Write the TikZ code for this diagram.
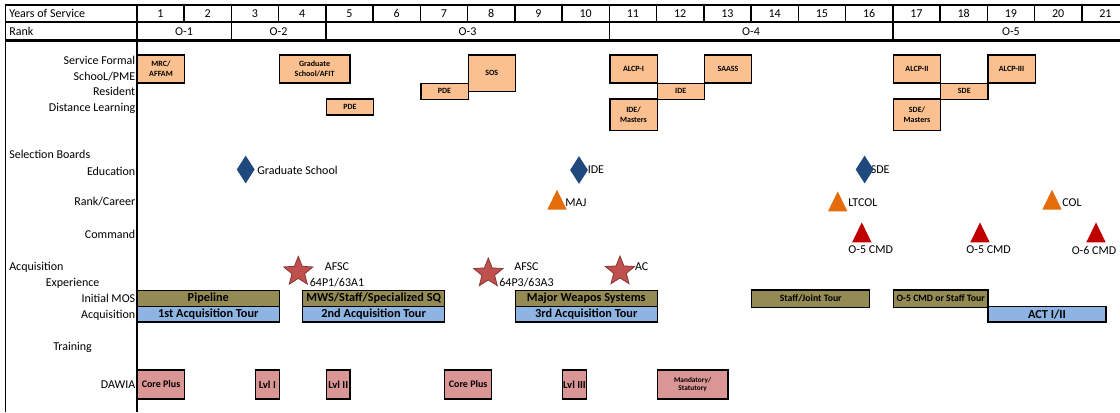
\documentclass[tikz,border=0pt]{standalone}
\usepackage{fontspec}
\setmainfont{Carlito}
\usetikzlibrary{shapes.geometric, positioning}

\definecolor{peach}{HTML}{FAC090}
\definecolor{tourolive}{HTML}{948A54}
\definecolor{tourblue}{HTML}{8DB4E2}
\definecolor{dawiapink}{HTML}{DA9694}
\definecolor{boardnavy}{HTML}{1F497D}
\definecolor{promoorange}{HTML}{E46C0A}
\definecolor{cmdred}{HTML}{C00000}
\definecolor{starred}{HTML}{C0504D}

% left edge of a year column, and one year wide
\newcommand{\yrx}[1]{136.8+(#1-1)*47.25}
\newcommand{\yrw}{35.4375pt}

\begin{document}
\begin{tikzpicture}[
    x=0.75pt, y=-0.75pt,
    gridline/.style={line width=1.1pt},
    headtext/.style={inner sep=0pt, text height=1.5ex, text depth=.25ex, font=\fontsize{9}{10}\selectfont},
    rowlabel/.style={anchor=east, inner sep=0pt, text height=1.5ex, text depth=.25ex, font=\fontsize{9}{10}\selectfont},
    sidelabel/.style={anchor=west, inner sep=0pt, text height=1.5ex, text depth=.25ex, font=\fontsize{9}{10}\selectfont},
    marktext/.style={inner sep=0pt, align=center, font=\fontsize{9}{12.5}\selectfont},
    pme/.style={
        rectangle,
        draw=black,
        line width=0.9pt,
        fill=peach,
        anchor=north west,
        inner sep=0pt,
        minimum width=\yrw,
        align=center,
        font=\fontsize{6}{7.5}\selectfont\bfseries
    },
    tour/.style={
        rectangle,
        draw=black,
        line width=0.9pt,
        anchor=north west,
        inner sep=0pt,
        minimum height=11.7pt,
        font=\fontsize{9.2}{10}\selectfont\bfseries
    },
    mos/.style={tour, fill=tourolive},
    acq/.style={tour, fill=tourblue},
    dawia/.style={
        rectangle,
        draw=black,
        line width=0.9pt,
        fill=dawiapink,
        anchor=north west,
        inner sep=0pt,
        minimum height=21.75pt,
        align=center,
        font=\fontsize{7.5}{8}\selectfont\bfseries
    },
    lvlbox/.style={dawia, minimum width=0.5*\yrw, font=\fontsize{8}{9}\selectfont\bfseries},
    board/.style={diamond, fill=boardnavy, minimum width=13.5pt, minimum height=21pt, inner sep=0pt},
    promo/.style={isosceles triangle, isosceles triangle stretches, shape border rotate=90,
        anchor=lower side, fill=promoorange, minimum width=14.6pt, minimum height=15pt, inner sep=0pt},
    cmd/.style={promo, fill=cmdred},
    afsc/.style={star, star points=5, star point ratio=2.3, fill=starred, draw=starred!70!black,
        line width=0.6pt, minimum size=23pt, inner sep=0pt}
]
    \useasboundingbox (0,0) rectangle (1120,412);

    % HEADER Years of Service / Rank
    \draw[gridline] (5,5) -- (1120,5);
    \draw[gridline] (5,22) -- (1120,22);
    \draw[line width=1.7pt] (5,40.5) -- (1120,40.5);
    \draw[gridline] (5.5,5) -- (5.5,412);
    \draw[line width=1.6pt] (136.8,5) -- (136.8,412);
    \foreach \n in {2,...,21}
        \draw[gridline] ({\yrx{\n}},5) -- ({\yrx{\n}},22);
    \foreach \n in {3,5,11,17}
        \draw[gridline] ({\yrx{\n}},22) -- ({\yrx{\n}},40.5);

    \node[sidelabel] (yos) at (9,13.5) {Years of Service};
    \node[sidelabel] (rank) at (9,31.5) {Rank};
    \foreach \n in {1,...,21}
        \node[headtext] (yr\n) at ({\yrx{\n}+23.6},13.5) {\n};
    \node[headtext] (o1) at ({\yrx{2}},31.5) {O-1};
    \node[headtext] (o2) at ({\yrx{4}},31.5) {O-2};
    \node[headtext] (o3) at ({\yrx{8}},31.5) {O-3};
    \node[headtext] (o4) at ({\yrx{14}},31.5) {O-4};
    \node[headtext] (o5) at ({\yrx{19.5}},31.5) {O-5};

    % LEFT row labels
    \node[rowlabel] (lsf) at (135.5,61) {Service Formal};
    \node[rowlabel] (lpme) at (135.5,77) {SchooL/PME};
    \node[rowlabel] (lres) at (135.5,91.5) {Resident};
    \node[rowlabel] (ldl) at (135.5,108) {Distance Learning};
    \node[sidelabel] (lsel) at (9,154.5) {Selection Boards};
    \node[rowlabel] (ledu) at (135.5,171.5) {Education};
    \node[rowlabel] (lrank) at (135.5,202) {Rank/Career};
    \node[rowlabel] (lcmd) at (135.5,235) {Command};
    \node[sidelabel] (lacq) at (9,267) {Acquisition};
    \node[sidelabel] (lexp) at (45.5,283) {Experience};
    \node[rowlabel] (lmos) at (135.5,299) {Initial MOS};
    \node[rowlabel] (lacqt) at (135.5,315) {Acquisition};
    \node[sidelabel] (ltrn) at (53,347) {Training};
    \node[rowlabel] (ldaw) at (135.5,385) {DAWIA};

    % PME boxes
    \node[pme, minimum height=21pt] (mrc) at ({\yrx{1}},54.3) {MRC/\\AFFAM};
    \node[pme, minimum width=1.5*\yrw, minimum height=21pt] (afit) at ({\yrx{4}},54.3) {Graduate\\School/AFIT};
    \node[pme, minimum height=12pt] (pdedl) at ({\yrx{5}},98.3) {PDE};
    \node[pme, minimum height=12pt] (pderes) at ({\yrx{7}},82.5) {PDE};
    \node[pme, minimum height=27.5pt] (sos) at ({\yrx{8}},54.3) {SOS};
    \node[pme, minimum height=21pt] (alcpa) at ({\yrx{11}},54.3) {ALCP-I};
    \node[pme, minimum height=12pt] (ide) at ({\yrx{12}},82.5) {IDE};
    \node[pme, minimum height=21pt] (saass) at ({\yrx{13}},54.3) {SAASS};
    \node[pme, minimum height=23.8pt] (idem) at ({\yrx{11}},98.3) {IDE/\\Masters};
    \node[pme, minimum height=21pt] (alcpb) at ({\yrx{17}},54.3) {ALCP-II};
    \node[pme, minimum height=12pt] (sde) at ({\yrx{18}},82.5) {SDE};
    \node[pme, minimum height=21pt] (alcpc) at ({\yrx{19}},54.3) {ALCP-III};
    \node[pme, minimum height=23.8pt] (sdem) at ({\yrx{17}},98.3) {SDE/\\Masters};

    % SELECTION boards
    \node[sidelabel] (gstext) at (257,171) {Graduate School};
    \node[board] (gsboard) at (245.7,169.5) {};
    \node[sidelabel] (idetext) at (587.5,170) {IDE};
    \node[board] (ideboard) at (579,170) {};
    \node[sidelabel] (sdetext) at (870.5,170) {SDE};
    \node[board] (sdeboard) at (864.6,169.5) {};
    \node[sidelabel] (majtext) at (565,202.5) {MAJ};
    \node[promo] (maj) at (557,210) {};
    \node[sidelabel] (ltcoltext) at (848,202.5) {LTCOL};
    \node[promo] (ltcol) at (837.7,211.7) {};
    \node[sidelabel] (coltext) at (1062,202.5) {COL};
    \node[promo] (col) at (1052,210) {};
    \node[cmd] (cmda) at (861.8,242.7) {};
    \node[marktext] (cmdatext) at (870.7,250) {O-5 CMD};
    \node[cmd] (cmdb) at (980,242.7) {};
    \node[marktext] (cmdbtext) at (988.6,250) {O-5 CMD};
    \node[cmd] (cmdc) at (1096,242.7) {};
    \node[marktext] (cmdctext) at (1094,250) {O-6 CMD};

    % ACQUISITION experience
    \node[afsc] (afsca) at (298.3,271.7) {};
    \node[marktext] (afscatext) at (337,275) {AFSC\\64P1/63A1};
    \node[afsc] (afscb) at (488.3,273.3) {};
    \node[marktext] (afscbtext) at (526.5,274.7) {AFSC\\64P3/63A3};
    \node[afsc] (ac) at (620,271.3) {};
    \node[marktext] (actext) at (641.7,266.7) {AC};

    % TOURS
    \node[mos, minimum width=3*\yrw] (pipe) at ({\yrx{1}},290) {Pipeline};
    \node[acq, minimum width=3*\yrw] (acqa) at ({\yrx{1}},305.7) {1st Acquisition Tour};
    \node[mos, minimum width=3*\yrw] (mws) at ({\yrx{4.5}},290) {MWS/Staff/Specialized SQ};
    \node[acq, minimum width=3*\yrw] (acqb) at ({\yrx{4.5}},305.7) {2nd Acquisition Tour};
    \node[mos, minimum width=3*\yrw] (mwsys) at ({\yrx{9}},290) {Major Weapos Systems};
    \node[acq, minimum width=3*\yrw] (acqc) at ({\yrx{9}},305.7) {3rd Acquisition Tour};
    \node[mos, minimum width=2.5*\yrw, minimum height=13pt, font=\fontsize{7.3}{8}\selectfont\bfseries] (joint) at ({\yrx{14}},289.3) {Staff/Joint Tour};
    \node[mos, minimum width=2*\yrw, minimum height=13pt, font=\fontsize{7.3}{8}\selectfont\bfseries] (cmdstaff) at ({\yrx{17}},289.3) {O-5 CMD or Staff Tour};
    \node[acq, minimum width=2.5*\yrw] (act) at ({\yrx{19}},305.7) {ACT I/II};

    % DAWIA
    \node[dawia, minimum width=\yrw] (corea) at ({\yrx{1}},369.3) {Core Plus};
    \node[lvlbox] (lvla) at ({\yrx{3.5}},369.3) {Lvl I};
    \node[lvlbox] (lvlb) at ({\yrx{5}},369.3) {Lvl II};
    \node[dawia, minimum width=\yrw] (coreb) at ({\yrx{7.5}},369.3) {Core Plus};
    \node[lvlbox] (lvlc) at ({\yrx{10}},369.3) {Lvl III};
    \node[dawia, minimum width=1.5*\yrw, font=\fontsize{5.5}{6.5}\selectfont\bfseries] (mand) at ({\yrx{12}},369.3) {Mandatory/\\Statutory};
\end{tikzpicture}
\end{document}
